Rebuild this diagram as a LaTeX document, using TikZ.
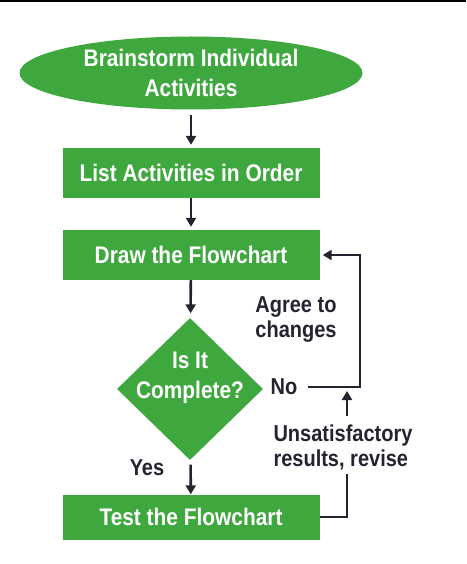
\documentclass[tikz,border=0pt]{standalone}
\usepackage{fontspec}
\setmainfont{Liberation Sans}[FakeStretch=0.87]
\usepackage{tikz}
\usetikzlibrary{positioning, arrows.meta, calc, shapes.geometric}
\usepackage{xcolor}
\definecolor{fc-green}{RGB}{62,168,62}
\definecolor{fc-ink}{RGB}{36,36,48}

\begin{document}
\begin{tikzpicture}[x=1pt, y=-1pt,
	stepbox/.style={draw=none, fill=fc-green, text=white, align=center, inner sep=0pt,
		font=\bfseries\fontsize{24}{30}\selectfont},
	lbl/.style={text=fc-ink, align=left, inner sep=2pt, font=\bfseries\fontsize{23}{25}\selectfont},
	arr/.style={-{Triangle[length=9pt,width=10pt]}, line width=2.6pt, fc-ink},
	line/.style={line width=2.6pt, fc-ink}]
					\useasboundingbox (0,0) rectangle (466,564);
					\draw[line width=2pt] (0,1) -- (466,1);
					
					\node[stepbox, ellipse, minimum width=343pt, minimum height=73pt] at (191,73) (brain) {Brainstorm Individual\\Activities};
					\node[stepbox, minimum width=257pt, minimum height=50pt] at (191,173) (list) {List Activities in Order};
					\node[stepbox, minimum width=257pt, minimum height=50pt] at (191,255) (drawfc) {Draw the Flowchart};
					\node[stepbox, diamond, inner sep=-25pt, minimum width=146pt, minimum height=142pt] at (190,389) (check)
						{\raisebox{5pt}[0pt][0pt]{\begin{tabular}{@{}c@{}}Is It\\Complete?\end{tabular}}};
					\node[stepbox, minimum width=257pt, minimum height=45pt] at (191,517) (test) {Test the Flowchart};
					
					\node[lbl] at (147,468) (yes) {Yes};
					\node[lbl] at (284,387) (no) {No};
					\node[lbl] at (296,320) (agree) {Agree to\\changes};
					\node[lbl] at (343,447) (unsat) {Unsatisfactory\\results, revise};
					\coordinate (turn) at (360,255);
					
					\draw[arr, shorten <=5pt, shorten >=3pt] (brain) -- (list);
					\draw[arr, shorten >=3pt] (list) -- (drawfc);
					\draw[arr, shorten >=5pt] (drawfc) -- (check);
					\draw[arr, shorten <=5pt] (check) -- (test);
					\draw[arr, shorten >=3pt] ([xshift=8pt]no.east) -| (turn) -- (drawfc.east);
					\draw[line] (test.east) -| ([xshift=4pt,yshift=-2pt]unsat.south);
					\draw[arr, shorten <=6pt, shorten >=4pt] ([xshift=4pt]unsat.north) -- ([xshift=4pt]unsat.north |- no.east);
				\end{tikzpicture}
\end{document}
